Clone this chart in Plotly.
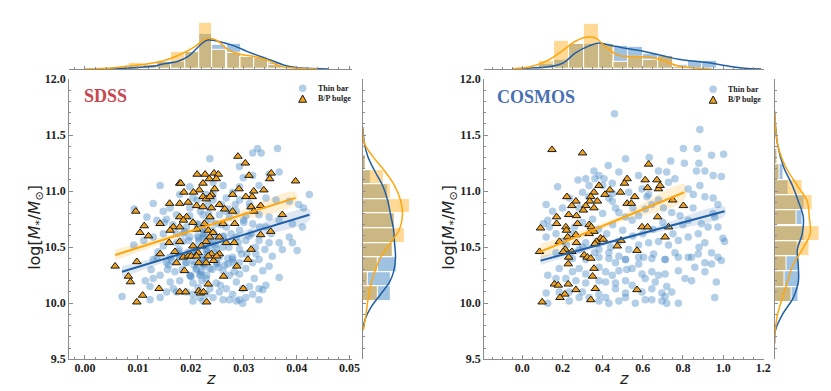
import plotly.graph_objects as go

# ---------------- data ----------------
# SDSS: thin bars (circles)
sdss_bar_z = [0.0326, 0.0317, 0.0333, 0.0364, 0.0236, 0.0292, 0.0317, 0.0299, 0.0348, 0.0367,
              0.0142, 0.0198, 0.0242, 0.0261, 0.0279, 0.0292, 0.0329, 0.0229, 0.0204, 0.0179,
              0.0161, 0.0148, 0.0129, 0.0198, 0.0242, 0.0267, 0.0292, 0.0311, 0.0342, 0.0361,
              0.0386, 0.0404, 0.0424, 0.0413, 0.0093, 0.0117, 0.0136, 0.0154, 0.0173, 0.0198,
              0.0223, 0.0254, 0.0273, 0.0304, 0.0329, 0.0348, 0.0367, 0.0392, 0.0411, 0.0386,
              0.0367, 0.0342, 0.0317, 0.0292, 0.0267, 0.0248, 0.0211, 0.0192, 0.0173, 0.0148,
              0.0129, 0.0111, 0.0092, 0.0148, 0.0173, 0.0198, 0.0223, 0.0242, 0.0261, 0.0286,
              0.0304, 0.0329, 0.0348, 0.0373, 0.0401, 0.0392, 0.0229, 0.0248, 0.0204, 0.0179,
              0.0161, 0.0129, 0.0292, 0.0323, 0.0354, 0.0279, 0.0217,
              0.0070, 0.0114, 0.0123, 0.0129, 0.0142, 0.0161, 0.0167, 0.0179, 0.0198, 0.0204,
              0.0217, 0.0229, 0.0236, 0.0248, 0.0261, 0.0273, 0.0286, 0.0292, 0.0304, 0.0317,
              0.0329, 0.0336, 0.0348, 0.0367, 0.0342, 0.0329, 0.0317, 0.0304, 0.0292, 0.0279,
              0.0267, 0.0254, 0.0242, 0.0229, 0.0217, 0.0204, 0.0192, 0.0173, 0.0154, 0.0142,
              0.0123, 0.0136, 0.0154, 0.0179, 0.0204, 0.0229, 0.0254, 0.0279, 0.0292, 0.0261,
              0.0223, 0.0204, 0.0236, 0.0248, 0.0211, 0.0223, 0.0192, 0.0270, 0.0329, 0.0336,
              0.0320, 0.0311, 0.0298, 0.0286, 0.0273, 0.0298,
              0.0210, 0.0220, 0.0225, 0.0210, 0.0235, 0.0215, 0.0225, 0.0240, 0.0205, 0.0220,
              0.0230, 0.0245, 0.0260, 0.0195, 0.0215, 0.0250, 0.0270, 0.0185,
              0.0215, 0.0222, 0.0228, 0.0218, 0.0232, 0.0226, 0.0238, 0.0212, 0.0244, 0.0252,
              0.0258, 0.0266, 0.0276, 0.0284, 0.0188, 0.0178, 0.0166, 0.0156, 0.0300, 0.0310,
              0.0240, 0.0232, 0.0264, 0.0200, 0.0282, 0.0296, 0.0256, 0.0190, 0.0170, 0.0226,
              0.0218, 0.0224, 0.0230, 0.0236, 0.0221, 0.0227, 0.0213, 0.0246, 0.0252, 0.0262,
              0.0272, 0.0280, 0.0290, 0.0306, 0.0314, 0.0322, 0.0340, 0.0352, 0.0184, 0.0176,
              0.0164, 0.0150, 0.0138, 0.0125, 0.0212, 0.0234, 0.0242, 0.0258, 0.0270, 0.0286,
              0.0300, 0.0312, 0.0330, 0.0196, 0.0206, 0.0214, 0.0222, 0.0200, 0.0186, 0.0158]
sdss_bar_mass = [11.38, 11.34, 11.34, 11.38, 11.29, 11.22, 11.14, 11.12, 11.15, 11.17,
                 11.05, 11.04, 11.08, 11.05, 10.99, 11.04, 11.05, 10.97, 10.94, 10.97,
                 10.85, 10.82, 10.89, 10.85, 10.92, 10.94, 10.92, 10.89, 10.94, 10.92,
                 10.91, 10.88, 10.97, 10.85, 10.84, 10.77, 10.74, 10.75, 10.79, 10.78,
                 10.79, 10.79, 10.77, 10.78, 10.79, 10.77, 10.74, 10.71, 10.68, 10.59,
                 10.54, 10.68, 10.71, 10.65, 10.68, 10.71, 10.71, 10.68, 10.62, 10.62,
                 10.59, 10.56, 10.52, 10.51, 10.54, 10.59, 10.59, 10.55, 10.59, 10.59,
                 10.56, 10.56, 10.54, 10.48, 10.47, 10.54, 10.48, 10.49, 10.45, 10.42,
                 10.41, 10.39, 10.48, 10.44, 10.42, 10.41, 10.39,
                 10.06, 10.20, 10.15, 10.22, 10.25, 10.19, 10.13, 10.20, 10.25, 10.18,
                 10.25, 10.22, 10.31, 10.36, 10.29, 10.25, 10.19, 10.26, 10.31, 10.36,
                 10.39, 10.29, 10.33, 10.23, 10.16, 10.13, 10.08, 10.05, 10.03, 10.08,
                 10.13, 10.10, 10.05, 10.08, 10.05, 10.08, 10.10, 10.10, 10.10, 10.05,
                 10.03, 10.41, 10.36, 10.41, 10.38, 10.41, 10.41, 10.39, 10.36, 10.03,
                 10.02, 10.02, 10.13, 10.18, 10.31, 10.35, 10.36, 10.35, 10.03, 10.12,
                 10.22, 10.15, 10.13, 10.02, 10.03, 10.00,
                 10.30, 10.28, 10.33, 10.45, 10.50, 10.55, 10.62, 10.65, 10.50, 10.40,
                 10.25, 10.45, 10.50, 10.45, 10.70, 10.35, 10.40, 10.55,
                 10.58, 10.66, 10.72, 10.82, 10.88, 10.60, 10.75, 10.48, 10.62, 10.58,
                 10.70, 10.82, 10.62, 10.88, 10.64, 10.48, 10.70, 10.30, 10.72, 10.60,
                 10.30, 10.44, 10.34, 10.24, 10.28, 10.44, 10.16, 10.36, 10.28, 10.52,
                 10.26, 10.35, 10.46, 10.56, 10.20, 10.38, 10.60, 10.52, 10.32, 10.60,
                 10.50, 10.36, 10.54, 10.44, 10.62, 10.50, 10.48, 10.62, 10.30, 10.46,
                 10.38, 10.72, 10.46, 10.30, 10.92, 10.80, 10.98, 10.88, 10.84, 10.82,
                 10.74, 10.86, 10.68, 10.56, 10.34, 10.14, 10.66, 10.24, 10.62, 10.34]

# SDSS: B/P bulges (triangles)
sdss_bp_z = [0.0289, 0.0303, 0.0212, 0.0227, 0.0244, 0.0252, 0.0235, 0.0248, 0.0310, 0.0352,
             0.0349, 0.0398, 0.0179, 0.0181, 0.0223, 0.0245, 0.0216, 0.0187, 0.0205, 0.0291,
             0.0319, 0.0338, 0.0279, 0.0239, 0.0223, 0.0229, 0.0236, 0.0316, 0.0304, 0.0160,
             0.0179, 0.0195, 0.0211, 0.0223, 0.0239, 0.0254, 0.0264, 0.0314, 0.0332, 0.0319,
             0.0279, 0.0096, 0.0373, 0.0179, 0.0192, 0.0186, 0.0204, 0.0236, 0.0112, 0.0142,
             0.0167, 0.0161, 0.0179, 0.0104, 0.0120, 0.0211, 0.0226, 0.0233, 0.0242, 0.0254,
             0.0283, 0.0261, 0.0332, 0.0351, 0.0236, 0.0229, 0.0267, 0.0282, 0.0159, 0.0179,
             0.0204, 0.0220, 0.0142, 0.0170, 0.0186, 0.0195, 0.0214, 0.0239, 0.0254, 0.0314,
             0.0057, 0.0098, 0.0082, 0.0086, 0.0140, 0.0109, 0.0098, 0.0173, 0.0188, 0.0179,
             0.0190, 0.0215, 0.0229, 0.0243, 0.0215, 0.0218, 0.0224, 0.0233, 0.0230, 0.0262,
             0.0287, 0.0299, 0.0308, 0.0201, 0.0211, 0.0233, 0.0249]
sdss_bp_mass = [11.31, 11.25, 11.15, 11.15, 11.16, 11.15, 11.11, 11.11, 11.14, 11.16,
                11.11, 11.09, 11.07, 11.07, 11.07, 11.02, 11.01, 10.99, 10.99, 11.02,
                11.00, 11.01, 10.97, 10.97, 10.95, 10.93, 10.95, 10.95, 10.95, 10.89,
                10.89, 10.90, 10.87, 10.86, 10.85, 10.88, 10.84, 10.86, 10.87, 10.82,
                10.82, 10.82, 10.79, 10.77, 10.77, 10.74, 10.72, 10.77, 10.69, 10.71,
                10.68, 10.65, 10.68, 10.63, 10.60, 10.66, 10.71, 10.65, 10.63, 10.59,
                10.71, 10.71, 10.61, 10.64, 10.59, 10.55, 10.54, 10.54, 10.54, 10.55,
                10.51, 10.51, 10.44, 10.46, 10.41, 10.42, 10.45, 10.44, 10.44, 10.48,
                10.33, 10.37, 10.24, 10.19, 10.13, 10.07, 10.01, 10.36, 10.29, 10.10,
                10.10, 10.36, 10.36, 10.38, 10.11, 10.09, 10.10, 10.17, 10.01, 10.24,
                10.33, 10.13, 10.39, 10.42, 10.42, 10.42, 10.42]

# COSMOS: thin bars (circles)
cosmos_bar_z = [0.459, 0.884,
                0.802, 0.871, 0.942, 1.002, 0.879, 0.807, 0.739, 0.632, 0.514, 0.428,
                0.357, 0.316, 0.362, 0.278, 0.176, 0.119, 0.127, 0.105, 0.909, 0.867,
                0.950, 0.991, 0.884, 0.826, 0.851, 0.909, 0.950, 0.974, 0.958, 0.974,
                0.999, 1.007, 0.925, 0.892, 0.826, 0.785, 0.744, 0.703, 0.645, 0.612,
                0.579, 0.547, 0.514, 0.481, 0.464, 0.448, 0.431, 0.530, 0.596, 0.629,
                0.678, 0.728, 0.760, 0.719, 0.678, 0.579, 0.481, 0.448, 0.407, 0.382,
                0.333, 0.300, 0.283, 0.234, 0.201, 0.151, 0.135, 0.119, 0.168, 0.201,
                0.168, 0.234, 0.283, 0.316, 0.382, 0.431, 0.481, 0.530, 0.579, 0.629,
                0.678, 0.728, 0.777, 0.826, 0.876, 0.909, 0.942, 0.974, 0.876, 0.826,
                0.760, 0.711, 0.654, 0.604, 0.514,
                0.250, 0.316, 0.382, 0.431, 0.464, 0.514, 0.579, 0.645, 0.711, 0.777,
                0.843, 0.909, 0.942, 0.991, 0.184, 0.250, 0.283, 0.316, 0.382, 0.415,
                0.448, 0.481, 0.547, 0.596, 0.645, 0.678, 0.711, 0.777, 0.859, 0.909,
                0.127, 0.168, 0.217, 0.267, 0.316, 0.382, 0.415, 0.464, 0.514, 0.547,
                0.612, 0.662, 0.719, 0.744, 0.810, 0.843, 0.966, 0.119, 0.184, 0.234,
                0.300, 0.382, 0.415, 0.464, 0.514, 0.514, 0.596, 0.645, 0.695, 0.711,
                0.645, 0.695, 0.719, 0.777, 0.958, 0.127, 0.234, 0.283, 0.333, 0.382,
                0.431, 0.481, 0.563, 0.612,
                0.350, 0.400, 0.450, 0.500, 0.550, 0.420, 0.380, 0.300, 0.260, 0.600,
                0.650, 0.700, 0.480, 0.440, 0.360, 0.300, 0.220, 0.250, 0.550, 0.450,
                0.400, 0.330, 0.620, 0.850, 0.950, 0.800, 0.750, 0.880, 0.580, 0.520]
cosmos_bar_mass = [11.69, 11.55,
                   11.38, 11.38, 11.32, 11.33, 11.25, 11.25, 11.27, 11.30, 11.29, 11.23,
                   11.18, 11.11, 11.11, 11.10, 11.04, 10.88, 10.74, 10.71, 11.18, 11.18,
                   11.14, 11.13, 11.05, 11.02, 10.97, 10.95, 10.94, 10.88, 10.77, 10.68,
                   10.58, 10.55, 10.68, 10.71, 10.74, 10.78, 10.81, 10.85, 10.88, 10.84,
                   10.78, 10.74, 10.77, 10.81, 10.85, 10.91, 10.94, 10.99, 11.02, 10.97,
                   10.92, 11.08, 11.11, 11.17, 11.18, 11.14, 11.17, 11.07, 11.11, 11.14,
                   11.05, 10.99, 10.85, 10.94, 10.85, 10.82, 10.68, 10.59, 10.62, 10.55,
                   10.45, 10.41, 10.48, 10.54, 10.48, 10.45, 10.42, 10.48, 10.52, 10.54,
                   10.55, 10.52, 10.56, 10.59, 10.62, 10.54, 10.45, 10.41, 10.44, 10.41,
                   10.45, 10.39, 10.44, 10.41, 10.39,
                   10.40, 10.39, 10.41, 10.40, 10.36, 10.39, 10.41, 10.40, 10.39, 10.41,
                   10.41, 10.36, 10.35, 10.38, 10.31, 10.28, 10.31, 10.26, 10.32, 10.28,
                   10.25, 10.29, 10.31, 10.26, 10.28, 10.25, 10.26, 10.29, 10.32, 10.28,
                   10.25, 10.22, 10.22, 10.20, 10.18, 10.20, 10.19, 10.18, 10.20, 10.16,
                   10.22, 10.19, 10.15, 10.10, 10.22, 10.20, 10.19, 10.09, 10.10, 10.10,
                   10.10, 10.08, 10.05, 10.13, 10.09, 10.05, 10.10, 10.13, 10.09, 10.06,
                   10.03, 10.02, 10.00, 10.00, 10.05, 10.00, 10.02, 10.05, 10.05, 10.02,
                   10.00, 10.02, 10.00, 10.03,
                   10.75, 10.80, 10.70, 10.65, 10.60, 10.62, 10.66, 10.72, 10.68, 10.62,
                   10.66, 10.72, 10.55, 10.50, 10.45, 10.50, 10.52, 10.62, 10.85, 10.98,
                   11.05, 10.95, 10.95, 10.85, 10.80, 10.70, 10.62, 10.50, 10.35, 10.30]

# COSMOS: B/P bulges (triangles)
cosmos_bp_z = [0.148, 0.300, 0.629, 0.522, 0.612, 0.670, 0.509, 0.678, 0.686, 0.624,
               0.382, 0.436, 0.357, 0.412, 0.341, 0.489, 0.560, 0.222, 0.267, 0.247,
               0.374, 0.336, 0.316, 0.357, 0.304, 0.522, 0.543, 0.749, 0.802, 0.171,
               0.171, 0.231, 0.270, 0.275, 0.217, 0.220, 0.267, 0.226, 0.270, 0.091,
               0.185, 0.086, 0.214, 0.204, 0.247, 0.231, 0.333, 0.344, 0.357, 0.333,
               0.390, 0.369, 0.362, 0.403, 0.473, 0.571, 0.596, 0.624, 0.674, 0.728,
               0.711, 0.492, 0.308, 0.324, 0.341,
               0.229, 0.357, 0.350, 0.160, 0.179, 0.229, 0.267, 0.364, 0.571, 0.212,
               0.188, 0.341, 0.099]
cosmos_bp_mass = [11.37, 11.34, 11.24, 11.11, 11.10, 11.10, 11.07, 11.02, 11.05, 11.03,
                  11.05, 11.01, 10.99, 10.97, 10.95, 10.99, 10.95, 10.95, 10.91, 10.87,
                  10.91, 10.91, 10.87, 10.85, 10.83, 10.89, 10.89, 10.92, 10.87, 10.77,
                  10.71, 10.79, 10.78, 10.71, 10.68, 10.65, 10.61, 10.59, 10.54, 10.67,
                  10.55, 10.46, 10.48, 10.46, 10.46, 10.41, 10.70, 10.68, 10.64, 10.62,
                  10.58, 10.55, 10.53, 10.57, 10.51, 10.47, 10.68, 10.68, 10.77, 10.68,
                  10.59, 10.56, 10.43, 10.41, 10.40,
                  10.35, 10.31, 10.24, 10.17, 10.16, 10.17, 10.12, 10.13, 10.12, 10.08,
                  10.05, 10.03, 10.01]

# regression lines (end / middle points) and confidence half-widths
sdss_bar_fit_z = [0.0070, 0.0247, 0.0424]
sdss_bar_fit_m = [10.28, 10.535, 10.79]
sdss_bar_fit_err = [0.05, 0.02, 0.05]
sdss_bp_fit_z = [0.0057, 0.0228, 0.0398]
sdss_bp_fit_m = [10.43, 10.685, 10.94]
sdss_bp_fit_err = [0.05, 0.02, 0.05]
cosmos_bar_fit_z = [0.091, 0.549, 1.007]
cosmos_bar_fit_m = [10.38, 10.60, 10.82]
cosmos_bar_fit_err = [0.04, 0.015, 0.04]
cosmos_bp_fit_z = [0.091, 0.449, 0.807]
cosmos_bp_fit_m = [10.46, 10.725, 10.99]
cosmos_bp_fit_err = [0.07, 0.025, 0.07]

# marginal histograms (bin centres, bar heights)
sdss_z_bins = [0.0070, 0.0097, 0.0123, 0.0149, 0.0176, 0.0202, 0.0228, 0.0254, 0.0281,
               0.0307, 0.0333, 0.0360, 0.0386, 0.0412]
sdss_z_bin_width = 0.00263
sdss_z_hist_bar = [0.5, 2, 5, 9, 7, 18, 37, 25, 26, 13, 13, 6, 2, 1.5]
sdss_z_hist_bp = [1, 6.7, 4, 7, 18, 18, 48, 20, 17, 13, 12, 4, 1, 0]
sdss_m_bins = [10.085, 10.215, 10.345, 10.475, 10.605, 10.735, 10.865, 10.995, 11.125,
               11.255, 11.385]
sdss_m_bin_width = 0.13
sdss_m_hist_bar = [28, 28, 34, 30, 32, 32, 27, 25, 8, 3, 1]
sdss_m_hist_bp = [15, 5, 15, 30, 42, 32, 47, 28, 21, 3, 0]

cosmos_z_bins = [0.123, 0.197, 0.270, 0.344, 0.418, 0.491, 0.565, 0.639, 0.712, 0.786,
                 0.860, 0.933, 1.007]
cosmos_z_bin_width = 0.0737
cosmos_z_hist_bar = [5, 10, 26, 26, 26, 24, 23, 16, 14, 4, 8, 8, 1]
cosmos_z_hist_bp = [8, 29, 26, 47, 26, 7, 13, 10, 14, 2, 0, 0, 0]
cosmos_m_bins = [10.078, 10.215, 10.351, 10.488, 10.624, 10.761, 10.898, 11.034, 11.171,
                 11.307, 11.444, 11.580, 11.717]
cosmos_m_bin_width = 0.1365
cosmos_m_hist_bar = [24, 25, 25, 23, 30, 28, 30, 14, 9, 3, 1, 0, 0.5]
cosmos_m_hist_bp = [17, 10, 12, 35, 45, 22, 38, 28, 5, 3, 0, 0, 0]

# KDE curves of the marginals
sdss_z_kde_x = [0.004, 0.0132, 0.0145, 0.0176, 0.0195, 0.0207, 0.0220, 0.0232, 0.0257,
                0.0282, 0.0307, 0.0332, 0.0357, 0.0382, 0.0407, 0.046]
sdss_z_kde_bar = [0, 3, 5, 8, 13, 19, 26, 30, 28, 24, 18, 13, 8, 3, 1, 0]
sdss_z_kde_x_bp = [0.0, 0.0051, 0.0082, 0.0113, 0.0145, 0.0176, 0.0207, 0.0232, 0.0251,
                   0.0270, 0.0295, 0.0320, 0.0345, 0.0369, 0.0394, 0.044]
sdss_z_kde_bp = [0, 1, 3, 5, 8, 14, 23, 32, 29, 20, 15, 13, 9, 3, 1, 0]

sdss_m_kde_y = [11.57, 11.43, 11.31, 11.18, 11.05, 10.92, 10.79, 10.66, 10.54, 10.41,
                10.28, 10.19, 10.08, 9.96, 9.85, 9.76]
sdss_m_kde_bar = [0, 1.5, 5, 12, 20, 25, 28, 31, 32, 33, 31, 27, 18, 8, 2, 0]
sdss_m_kde_y_bp = [11.57, 11.43, 11.31, 11.18, 11.05, 10.92, 10.79, 10.66, 10.54, 10.41,
                   10.28, 10.16, 10.02, 9.89, 9.76]
sdss_m_kde_bp = [0, 1.5, 10, 22, 32, 38, 40, 37, 28, 18, 12, 8, 5, 3, 0.5]

cosmos_z_kde_x = [-0.046, 0.036, 0.119, 0.201, 0.267, 0.333, 0.382, 0.448, 0.530, 0.613,
                  0.695, 0.777, 0.860, 0.942, 1.024, 1.107, 1.189]
cosmos_z_kde_bar = [0, 1, 2, 6, 17, 24, 27, 24, 21, 18, 14, 10, 8, 6, 3, 0.7, 0]
cosmos_z_kde_x_bp = [-0.046, 0.036, 0.119, 0.201, 0.267, 0.316, 0.366, 0.415, 0.481,
                     0.564, 0.646, 0.712, 0.777, 0.860, 0.942]
cosmos_z_kde_bp = [0.3, 2, 8, 19, 29, 33, 32, 23, 14, 13, 12, 8, 3, 1, 0]

cosmos_m_kde_y = [11.71, 11.42, 11.22, 11.05, 10.91, 10.77, 10.62, 10.48, 10.33, 10.19,
                  10.05, 9.90, 9.76, 9.64]
cosmos_m_kde_bar = [0, 3, 9, 18, 24, 29, 28, 23, 24, 24, 19, 8, 1, 0]
cosmos_m_kde_bp = [0.3, 3, 11, 23, 33, 35, 36, 28, 18, 13, 8, 3, 0.7, 0]

# ---------------- style ----------------
W, H = 831, 391
BLUE_PT = "rgba(66,133,196,0.40)"
BLUE_LINE = "#1f5fa8"
ORANGE_PT = "#f0a21e"
ORANGE_LINE = "#ffa60d"
BLUE_HIST = "rgba(66,133,196,0.50)"
ORANGE_HIST = "rgba(255,170,20,0.45)"
SPINE = "#8c8c8c"
SERIF = "Liberation Serif"
SANS = "DejaVu Sans"


def px_x(p):
    return p / W


def px_y(p):
    return 1 - p / H


fig = go.Figure()


def add_panel(n, z, m, zb, mb, fits, zhist, mhist, zkde, mkde):
    xa, ya = f"x{n}" if n > 1 else "x", f"y{n}" if n > 1 else "y"
    xt, yt = f"x{n + 1}", f"y{n + 1}"
    xr, yr = f"x{n + 2}", f"y{n + 2}"

    # confidence bands + fit lines
    for (fz, fm, fe, col, band) in fits:
        lo = [a - b for a, b in zip(fm, fe)]
        hi = [a + b for a, b in zip(fm, fe)]
        fig.add_trace(go.Scatter(x=fz + fz[::-1], y=hi + lo[::-1], mode="lines", fill="toself",
                                 fillcolor=band, line=dict(width=0, shape="spline"),
                                 hoverinfo="skip", showlegend=False, xaxis=xa, yaxis=ya))
    fig.add_trace(go.Scatter(x=z, y=m, mode="markers", showlegend=False,
                             marker=dict(symbol="circle", size=7.5, color=BLUE_PT,
                                         line=dict(width=0)),
                             xaxis=xa, yaxis=ya))
    fig.add_trace(go.Scatter(x=zb, y=mb, mode="markers", showlegend=False,
                             marker=dict(symbol="triangle-up", size=7.5, color=ORANGE_PT,
                                         line=dict(width=1, color="#1a1a1a")),
                             xaxis=xa, yaxis=ya))
    for (fz, fm, fe, col, band) in fits:
        fig.add_trace(go.Scatter(x=[fz[0], fz[-1]], y=[fm[0], fm[-1]], mode="lines",
                                 line=dict(color=col, width=2), showlegend=False,
                                 xaxis=xa, yaxis=ya))

    # top marginal
    bins, width, hb, ho = zhist
    fig.add_trace(go.Bar(x=bins, y=hb, width=width, marker=dict(color=BLUE_HIST,
                         line=dict(color="white", width=1)), showlegend=False,
                         xaxis=xt, yaxis=yt))
    fig.add_trace(go.Bar(x=bins, y=ho, width=width, marker=dict(color=ORANGE_HIST,
                         line=dict(color="white", width=1)), showlegend=False,
                         xaxis=xt, yaxis=yt))
    kx, kb, kxo, ko = zkde
    fig.add_trace(go.Scatter(x=kx, y=kb, mode="lines", line=dict(color=BLUE_LINE, width=1.5,
                             shape="spline"), showlegend=False, xaxis=xt, yaxis=yt))
    fig.add_trace(go.Scatter(x=kxo, y=ko, mode="lines", line=dict(color=ORANGE_LINE, width=1.5,
                             shape="spline"), showlegend=False, xaxis=xt, yaxis=yt))

    # right marginal
    bins, width, hb, ho = mhist
    fig.add_trace(go.Bar(y=bins, x=hb, width=width, orientation="h",
                         marker=dict(color=BLUE_HIST, line=dict(color="white", width=1)),
                         showlegend=False, xaxis=xr, yaxis=yr))
    fig.add_trace(go.Bar(y=bins, x=ho, width=width, orientation="h",
                         marker=dict(color=ORANGE_HIST, line=dict(color="white", width=1)),
                         showlegend=False, xaxis=xr, yaxis=yr))
    ky, kb, kyo, ko = mkde
    fig.add_trace(go.Scatter(y=ky, x=kb, mode="lines", line=dict(color=BLUE_LINE, width=1.5,
                             shape="spline"), showlegend=False, xaxis=xr, yaxis=yr))
    fig.add_trace(go.Scatter(y=kyo, x=ko, mode="lines", line=dict(color=ORANGE_LINE, width=1.5,
                             shape="spline"), showlegend=False, xaxis=xr, yaxis=yr))


add_panel(1, sdss_bar_z, sdss_bar_mass, sdss_bp_z, sdss_bp_mass,
          [(sdss_bar_fit_z, sdss_bar_fit_m, sdss_bar_fit_err, BLUE_LINE, "rgba(31,95,168,0.15)"),
           (sdss_bp_fit_z, sdss_bp_fit_m, sdss_bp_fit_err, ORANGE_LINE, "rgba(255,166,13,0.18)")],
          (sdss_z_bins, sdss_z_bin_width, sdss_z_hist_bar, sdss_z_hist_bp),
          (sdss_m_bins, sdss_m_bin_width, sdss_m_hist_bar, sdss_m_hist_bp),
          (sdss_z_kde_x, sdss_z_kde_bar, sdss_z_kde_x_bp, sdss_z_kde_bp),
          (sdss_m_kde_y, sdss_m_kde_bar, sdss_m_kde_y_bp, sdss_m_kde_bp))
add_panel(4, cosmos_bar_z, cosmos_bar_mass, cosmos_bp_z, cosmos_bp_mass,
          [(cosmos_bar_fit_z, cosmos_bar_fit_m, cosmos_bar_fit_err, BLUE_LINE, "rgba(31,95,168,0.15)"),
           (cosmos_bp_fit_z, cosmos_bp_fit_m, cosmos_bp_fit_err, ORANGE_LINE, "rgba(255,166,13,0.18)")],
          (cosmos_z_bins, cosmos_z_bin_width, cosmos_z_hist_bar, cosmos_z_hist_bp),
          (cosmos_m_bins, cosmos_m_bin_width, cosmos_m_hist_bar, cosmos_m_hist_bp),
          (cosmos_z_kde_x, cosmos_z_kde_bar, cosmos_z_kde_x_bp, cosmos_z_kde_bp),
          (cosmos_m_kde_y, cosmos_m_kde_bar, cosmos_m_kde_y, cosmos_m_kde_bp))

# ---------------- axes ----------------
tickfont = dict(family=SERIF, size=12, color="#222", weight="bold")
spine = dict(showline=True, linecolor=SPINE, linewidth=1, ticks="inside", tickcolor=SPINE,
             ticklen=4, showgrid=False, zeroline=False)
main_ydom = [px_y(357), px_y(66.5)]
top_ydom = [px_y(56), px_y(5)]

panels = [
    (1, [px_x(61.7), px_x(347)], [-0.003, 0.0504], 0.01, 0.002, ".2f", [px_x(358.3), px_x(409.3)]),
    (4, [px_x(480.7), px_x(763)], [-0.19, 1.2015], 0.2, 0.05, ".1f", [px_x(774), px_x(825)]),
]
for n, xdom, xrng, dt, mdt, fmt, rdom in panels:
    s = "" if n == 1 else str(n)
    fig.layout["xaxis" + s] = dict(domain=xdom, range=xrng, anchor="y" + s, dtick=dt, tick0=0,
                                   tickformat=fmt, tickfont=tickfont, ticklabelstandoff=-3,
                                   minor=dict(dtick=mdt, ticks="inside", ticklen=2,
                                              tickcolor=SPINE), **spine)
    fig.layout["yaxis" + s] = dict(domain=main_ydom, range=[9.5, 12.0], anchor="x" + s,
                                   dtick=0.5, tickformat=".1f", tickfont=tickfont,
                                   minor=dict(dtick=0.1, ticks="inside", ticklen=2,
                                              tickcolor=SPINE), **spine)
    t = str(n + 1)
    fig.layout["xaxis" + t] = dict(domain=xdom, range=xrng, anchor="y" + t, dtick=dt, tick0=0,
                                   showticklabels=False, ticklen=3,
                                   minor=dict(dtick=mdt, ticks="inside", ticklen=2,
                                              tickcolor=SPINE),
                                   **{k: v for k, v in spine.items() if k != "ticklen"})
    fig.layout["yaxis" + t] = dict(domain=top_ydom, range=[0, 51], anchor="x" + t,
                                   visible=False)
    r = str(n + 2)
    fig.layout["xaxis" + r] = dict(domain=rdom, range=[0, 51], anchor="y" + r, visible=False)
    fig.layout["yaxis" + r] = dict(domain=main_ydom, range=[9.5, 12.0], anchor="x" + r,
                                   dtick=0.5, showticklabels=False, ticklen=3,
                                   minor=dict(dtick=0.1, ticks="inside", ticklen=2,
                                              tickcolor=SPINE),
                                   **{k: v for k, v in spine.items() if k != "ticklen"})

# ---------------- axis titles, panel labels and legends ----------------
for xc, yc in [(205, 27), (622, 445)]:
    fig.add_annotation(text="<i>z</i>", x=px_x(xc), y=px_y(377), xref="paper", yref="paper",
                       xanchor="center", yanchor="middle", showarrow=False,
                       font=dict(family=SANS, size=16, color="#222"))
    fig.add_annotation(text="log[<i>M</i><sub>*</sub>/<i>M</i><sub>⊙</sub>]", textangle=-90,
                       x=px_x(yc), y=px_y(220), xref="paper", yref="paper",
                       xanchor="center", yanchor="middle", showarrow=False,
                       font=dict(family=SANS, size=16, color="#222"))

fig.add_annotation(text="<b>SDSS</b>", x=px_x(75), y=px_y(84), xref="paper", yref="paper",
                   xanchor="left", yanchor="middle", showarrow=False,
                   font=dict(family=SERIF, size=18, color="#c9474f"))
fig.add_annotation(text="<b>COSMOS</b>", x=px_x(492), y=px_y(85), xref="paper", yref="paper",
                   xanchor="left", yanchor="middle", showarrow=False,
                   font=dict(family=SERIF, size=18, color="#4a70b5"))

for cx, cy in [(297.5, 76), (712, 77)]:
    fig.add_shape(type="circle", xref="paper", yref="paper",
                  x0=px_x(cx - 3.8), x1=px_x(cx + 3.8), y0=px_y(cy + 3.8), y1=px_y(cy - 3.8),
                  fillcolor=BLUE_PT, line=dict(width=0))
    ty = cy + 11
    fig.add_shape(type="path", xref="paper", yref="paper",
                  path=f"M {px_x(cx - 4)} {px_y(ty + 3.5)} L {px_x(cx + 4)} {px_y(ty + 3.5)} "
                       f"L {px_x(cx)} {px_y(ty - 4)} Z",
                  fillcolor=ORANGE_PT, line=dict(width=1, color="#1a1a1a"))
    for txt, yy in [("Thin bar", cy), ("B/P bulge", ty)]:
        fig.add_annotation(text=f"<b>{txt}</b>", x=px_x(cx + 13), y=px_y(yy), xref="paper",
                           yref="paper", xanchor="left", yanchor="middle", showarrow=False,
                           font=dict(family=SERIF, size=8, color="#222"))

fig.update_layout(width=W, height=H, margin=dict(l=0, r=0, t=0, b=0),
                  paper_bgcolor="white", plot_bgcolor="white", barmode="overlay",
                  bargap=0, showlegend=False)

fig.write_html("out.html")
